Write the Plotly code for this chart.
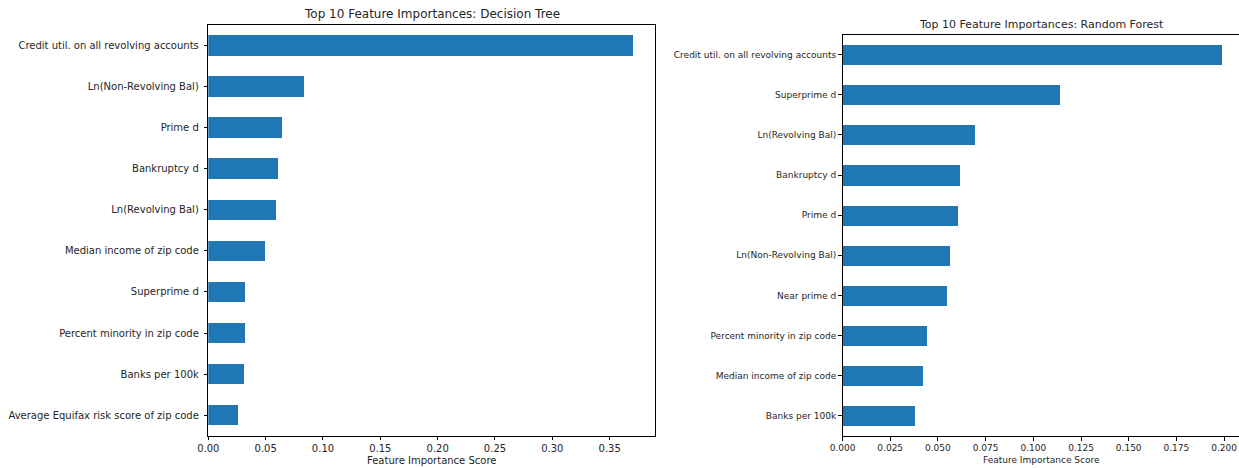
import plotly.graph_objects as go

W, H = 1239, 468

dt_features = ["Credit util. on all revolving accounts", "Ln(Non-Revolving Bal)", "Prime d",
               "Bankruptcy d", "Ln(Revolving Bal)", "Median income of zip code", "Superprime d",
               "Percent minority in zip code", "Banks per 100k", "Average Equifax risk score of zip code"]
dt_values = [0.371, 0.084, 0.0648, 0.0611, 0.0596, 0.0497, 0.0321, 0.0320, 0.0313, 0.0258]

rf_features = ["Credit util. on all revolving accounts", "Superprime d", "Ln(Revolving Bal)",
               "Bankruptcy d", "Prime d", "Ln(Non-Revolving Bal)", "Near prime d",
               "Percent minority in zip code", "Median income of zip code", "Banks per 100k"]
rf_values = [0.1988, 0.1135, 0.0693, 0.0613, 0.0603, 0.0561, 0.0547, 0.0442, 0.0417, 0.0378]

dt_ticks = [0.0, 0.05, 0.10, 0.15, 0.20, 0.25, 0.30, 0.35]
dt_ticktext = ["0.00", "0.05", "0.10", "0.15", "0.20", "0.25", "0.30", "0.35"]
rf_ticks = [0.0, 0.025, 0.05, 0.075, 0.10, 0.125, 0.15, 0.175, 0.20]
rf_ticktext = ["0.000", "0.025", "0.050", "0.075", "0.100", "0.125", "0.150", "0.175", "0.200"]

BAR = "#1f77b4"
TXT = "#262626"
FONT = "DejaVu Sans"

fig = go.Figure()
fig.add_trace(go.Bar(x=dt_values, y=dt_features, orientation="h", width=0.5,
                     marker=dict(color=BAR, line=dict(width=0)), xaxis="x", yaxis="y",
                     showlegend=False))
fig.add_trace(go.Bar(x=rf_values, y=rf_features, orientation="h", width=0.5,
                     marker=dict(color=BAR, line=dict(width=0)), xaxis="x2", yaxis="y2",
                     showlegend=False))

# pixel geometry
L1, R1, T1, B1 = 208.3, 655, 25, 435.7
L2, R2, T2, B2 = 842.5, 1239, 34.5, 436

def px(x):
    return x / W

def py(y):
    return (H - y) / H

dt_max = max(dt_values) * 1.05
rf_scale = 1908.0
rf_max = (R2 - L2) / rf_scale

axis_common = dict(showgrid=False, zeroline=False, showline=True, linecolor="black",
                   linewidth=1, ticks="outside", ticklen=3.5, tickwidth=0.8, tickcolor="black",
                   automargin=False)

fig.update_layout(
    width=W, height=H, margin=dict(l=0, r=0, t=0, b=0, autoexpand=False),
    paper_bgcolor="white", plot_bgcolor="white",
    font=dict(family=FONT, color=TXT),
    xaxis=dict(domain=[px(L1), px(R1)], range=[0, dt_max], anchor="y", mirror=True,
               tickvals=dt_ticks, ticktext=dt_ticktext, tickfont=dict(size=10, color=TXT),
               **axis_common),
    yaxis=dict(domain=[py(B1), py(T1)], anchor="x", mirror=True, type="category",
               categoryorder="array", categoryarray=dt_features, range=[9.5, -0.5],
               tickfont=dict(size=10, color=TXT), ticklabelstandoff=3, **axis_common),
    xaxis2=dict(domain=[px(L2), px(R2)], range=[0, rf_max], anchor="y2", mirror=True,
                tickvals=rf_ticks, ticktext=rf_ticktext, tickfont=dict(size=9, color=TXT),
                **axis_common),
    yaxis2=dict(domain=[py(B2), py(T2)], anchor="x2", mirror=False, type="category",
                categoryorder="array", categoryarray=rf_features, range=[9.5, -0.5],
                tickfont=dict(size=9, color=TXT), **axis_common),
    bargap=0,
)

annotations = [
    dict(text="Top 10 Feature Importances: Decision Tree", x=px((L1 + R1) / 2), y=py(14),
         font=dict(size=12, color=TXT)),
    dict(text="Feature Importance Score", x=px((L1 + R1) / 2), y=py(460),
         font=dict(size=10, color=TXT)),
    dict(text="Top 10 Feature Importances: Random Forest", x=px(1041), y=py(24),
         font=dict(size=11, color=TXT)),
    dict(text="Feature Importance Score", x=px(1041), y=py(460),
         font=dict(size=9, color=TXT)),
]
for a in annotations:
    fig.add_annotation(xref="paper", yref="paper", showarrow=False, xanchor="center",
                       yanchor="middle", **a)

fig.write_html("out.html")
